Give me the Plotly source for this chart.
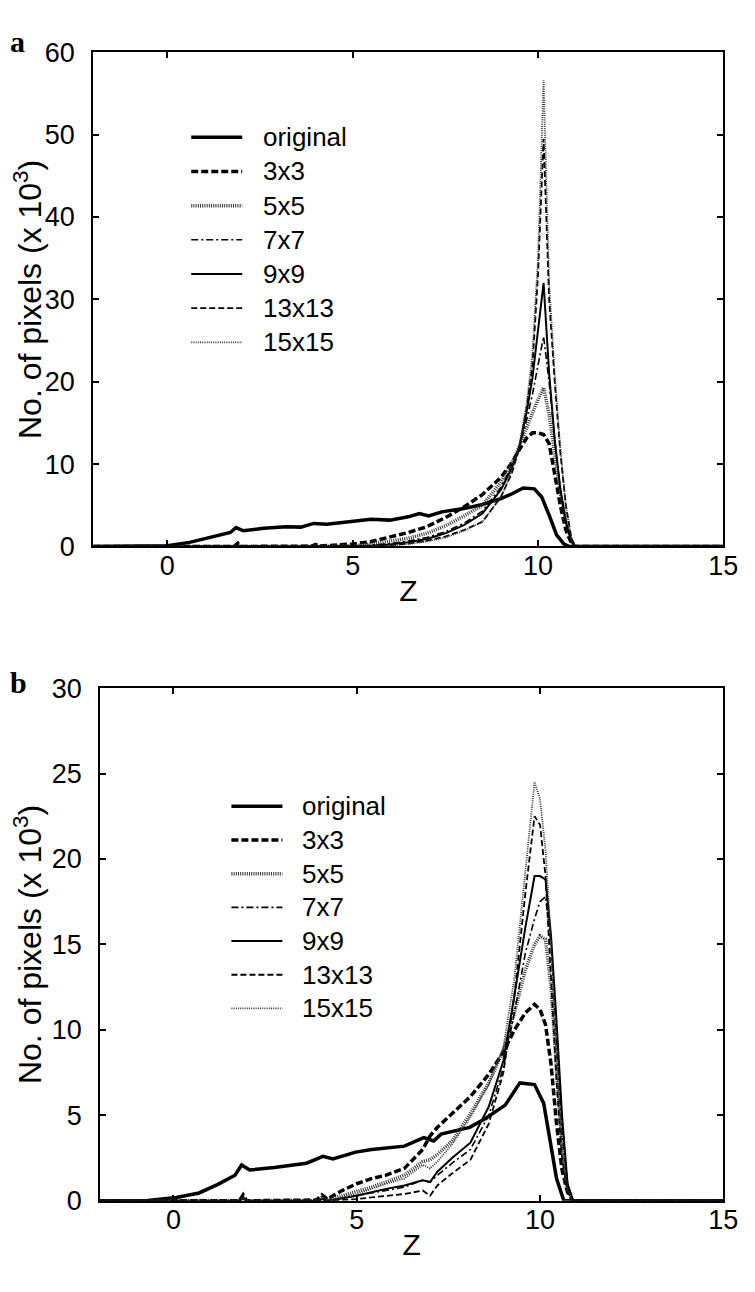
import plotly.graph_objects as go

# ---------------- data (values in thousands of pixels) ----------------
# Panel a
orig_a_z = [-2, -1, -0.5, 0, 0.6, 1.2, 1.7, 1.85, 2.05, 2.6, 3.2, 3.6, 3.95, 4.3, 5.0, 5.5, 6.0,
            6.5, 6.8, 7.05, 7.4, 8.0, 8.5, 9.0, 9.3, 9.6, 9.9, 10.1, 10.3, 10.5, 10.7, 10.85, 11.5, 15]
orig_a_n = [0, 0, 0.02, 0.1, 0.5, 1.1, 1.7, 2.3, 1.9, 2.2, 2.4, 2.35, 2.8, 2.7, 3.0, 3.3, 3.2,
            3.6, 4.0, 3.7, 4.2, 4.6, 5.1, 5.8, 6.4, 7.1, 7.0, 6.0, 3.8, 1.4, 0.3, 0, 0, 0]

filt_a_z = [-2, 1.8, 1.9, 2.0, 3.9, 4.0, 4.1, 5.0, 5.5, 6.0, 6.5, 7.0, 7.5, 8.0, 8.5, 9.0, 9.3,
            9.5, 9.7, 9.85, 10.0, 10.15, 10.3, 10.45, 10.6, 10.75, 10.9, 11.0, 15]
f3_a = [0, 0, 0.4, 0, 0.05, 0.25, 0.05, 0.3, 0.6, 1.1, 1.7, 2.4, 3.5, 4.8, 6.3, 8.4, 10.2,
        11.8, 13.2, 13.8, 13.8, 13.6, 12.5, 8.8, 5.0, 2.0, 0.4, 0, 0]
f5_a = [0, 0, 0.2, 0, 0, 0.1, 0, 0.1, 0.3, 0.6, 1.0, 1.6, 2.5, 3.7, 5.0, 7.8, 10.2,
        12.2, 14.6, 16.2, 17.8, 19.3, 16.0, 11.0, 6.5, 3.0, 0.6, 0, 0]
f7_a = [0, 0, 0.1, 0, 0, 0.05, 0, 0.05, 0.15, 0.35, 0.65, 1.1, 1.8, 2.8, 4.3, 7.2, 9.8,
        12.0, 15.5, 18.5, 22.0, 25.5, 20.0, 13.0, 7.0, 3.0, 0.6, 0, 0]
f9_a = [0, 0, 0.1, 0, 0, 0.05, 0, 0.03, 0.1, 0.25, 0.5, 0.9, 1.6, 2.6, 4.0, 6.9, 9.6,
        12.2, 16.5, 20.5, 26.0, 32.0, 21.0, 13.0, 7.0, 3.0, 0.6, 0, 0]
f13_a = [0, 0, 0.05, 0, 0, 0, 0, 0, 0.05, 0.15, 0.35, 0.7, 1.2, 2.0, 3.0, 6.0, 9.0,
         12.0, 17.0, 22.0, 33.0, 49.5, 30.0, 20.0, 11.5, 5.0, 1.0, 0, 0]
f15_a = [0, 0, 0.05, 0, 0, 0, 0, 0, 0.05, 0.1, 0.3, 0.6, 1.1, 1.9, 3.0, 6.0, 9.2,
         12.4, 17.5, 23.5, 35.0, 56.6, 32.0, 21.0, 12.0, 5.0, 1.0, 0, 0]

# Panel b
orig_b_z = [-2, -1, -0.7, 0.08, 0.7, 1.2, 1.68, 1.86, 2.08, 2.75, 3.63, 4.08, 4.35, 4.97, 5.41,
            6.3, 6.83, 7.1, 7.3, 8.08, 8.5, 9.05, 9.45, 9.85, 10.1, 10.3, 10.45, 10.65, 11, 15]
orig_b_n = [0, 0, 0.02, 0.2, 0.46, 0.95, 1.5, 2.1, 1.8, 1.95, 2.2, 2.6, 2.45, 2.85, 3.0,
            3.2, 3.7, 3.5, 3.9, 4.3, 4.8, 5.6, 6.9, 6.8, 5.7, 3.2, 1.3, 0, 0, 0]

filt_b_z = [-2, 1.8, 1.9, 2.0, 3.9, 4.05, 4.2, 4.6, 5.0, 5.4, 5.8, 6.3, 6.8, 7.0, 7.2, 7.6,
            8.1, 8.6, 9.0, 9.3, 9.6, 9.85, 10.0, 10.15, 10.3, 10.45, 10.6, 10.75, 10.9, 15]
f3_b = [0, 0, 0.35, 0, 0.05, 0.35, 0.1, 0.6, 1.0, 1.3, 1.5, 1.9, 3.0, 3.8, 4.3, 5.1,
        6.1, 7.4, 8.7, 10.0, 11.0, 11.5, 11.2, 10.3, 8.0, 4.5, 1.8, 0.5, 0, 0]
f5_b = [0, 0, 0.2, 0, 0, 0.2, 0.05, 0.3, 0.5, 0.8, 1.1, 1.5, 2.3, 2.4, 2.7, 3.5,
        5.1, 6.9, 8.8, 11.0, 13.5, 15.0, 15.5, 15.3, 12.5, 7.5, 3.0, 0.8, 0, 0]
f7_b = [0, 0, 0.15, 0, 0, 0.1, 0, 0.15, 0.3, 0.45, 0.6, 0.8, 1.2, 1.1, 1.5, 2.2,
        3.0, 5.0, 7.8, 11.0, 14.5, 16.5, 17.5, 17.8, 15.0, 9.5, 4.0, 1.0, 0, 0]
f9_b = [0, 0, 0.15, 0, 0, 0.1, 0, 0.15, 0.3, 0.5, 0.7, 0.9, 1.2, 1.1, 1.7, 2.5,
        3.4, 5.5, 8.2, 12.0, 16.0, 19.0, 19.0, 18.8, 15.5, 10.5, 5.0, 1.0, 0, 0]
f13_b = [0, 0, 0.1, 0, 0, 0.05, 0, 0.05, 0.1, 0.2, 0.3, 0.4, 0.6, 0.3, 0.9, 1.6,
         2.4, 4.5, 7.5, 12.0, 18.0, 22.5, 22.0, 19.0, 13.0, 7.0, 2.5, 0.5, 0, 0]
f15_b = [0, 0, 0.1, 0, 0, 0.1, 0, 0.2, 0.4, 0.7, 1.0, 1.3, 2.1, 1.9, 2.3, 3.3,
         4.9, 6.8, 9.0, 13.0, 19.5, 24.5, 23.5, 20.5, 15.0, 8.5, 3.0, 0.6, 0, 0]

series_names = ["original", "3x3", "5x5", "7x7", "9x9", "13x13", "15x15"]
x_ticks = [0, 5, 10, 15]
panel_labels = ["a", "b"]

# ---------------- styling ----------------
FONT = "Liberation Sans, Arial, sans-serif"
styles = {
    "original": dict(color="black", width=3.5, dash="solid"),
    "3x3": dict(color="black", width=3.5, dash="7px,3px"),
    "5x5": dict(color="#333", width=3.5, dash="1px,1.2px"),
    "7x7": dict(color="black", width=1.6, dash="7px,3px,2px,3px"),
    "9x9": dict(color="black", width=2, dash="solid"),
    "13x13": dict(color="black", width=1.8, dash="6px,3px"),
    "15x15": dict(color="#333", width=1.8, dash="1px,1.2px"),
}

panel_a = [(orig_a_z, orig_a_n), (filt_a_z, f3_a), (filt_a_z, f5_a), (filt_a_z, f7_a),
           (filt_a_z, f9_a), (filt_a_z, f13_a), (filt_a_z, f15_a)]
panel_b = [(orig_b_z, orig_b_n), (filt_b_z, f3_b), (filt_b_z, f5_b), (filt_b_z, f7_b),
           (filt_b_z, f9_b), (filt_b_z, f13_b), (filt_b_z, f15_b)]

fig = go.Figure()
for (xs, ys), name in zip(panel_a, series_names):
    fig.add_trace(go.Scatter(x=xs, y=ys, mode="lines", name=name, line=styles[name],
                             xaxis="x", yaxis="y", showlegend=False))
for (xs, ys), name in zip(panel_b, series_names):
    fig.add_trace(go.Scatter(x=xs, y=ys, mode="lines", name=name, line=styles[name],
                             xaxis="x2", yaxis="y2", showlegend=False))

# The page body adds an 8px margin; window pixel positions are converted to figure space.
OFF = 8
W, H = 755 - OFF, 1292 - OFF


def px_x(p):
    return (p - OFF) / W


def px_y(p):
    return 1 - (p - OFF) / H


axis_common = dict(showline=True, linewidth=2, linecolor="black", mirror="ticks",
                   ticks="inside", ticklen=6, tickwidth=1.5, tickcolor="black",
                   showgrid=False, zeroline=False,
                   tickfont=dict(family=FONT, size=27, color="black"))

ytitle = dict(text="No. of pixels (x 10<sup>3</sup>)", font=dict(family=FONT, size=32, color="black"),
              standoff=12)
xtitle = dict(text="Z", font=dict(family=FONT, size=30, color="black"), standoff=0)

fig.update_layout(
    width=W, height=H,
    margin=dict(l=0, r=0, t=0, b=0),
    paper_bgcolor="white", plot_bgcolor="white",
    showlegend=False,
    xaxis=dict(domain=[px_x(95), px_x(738)], range=[-2, 15], tickvals=x_ticks, anchor="y",
               title=xtitle, ticklabelstandoff=-6, **axis_common),
    yaxis=dict(domain=[px_y(544), px_y(38)], range=[0, 60], dtick=10, anchor="x",
               title=ytitle, ticklabelstandoff=11, **axis_common),
    xaxis2=dict(domain=[px_x(102), px_x(738)], range=[-2, 15], tickvals=x_ticks, anchor="y2",
                title=xtitle, ticklabelstandoff=-6, **axis_common),
    yaxis2=dict(domain=[px_y(1214), px_y(689)], range=[0, 30], dtick=5, anchor="x2",
                title=ytitle, ticklabelstandoff=11, **axis_common),
)

# legend boxes drawn as line samples + labels (one per panel)
legend_specs = [
    dict(x0=195, x1=247, xt=266, y0=125, dy=35),
    dict(x0=236, x1=288, xt=306, y0=810, dy=34.5),
]
for spec in legend_specs:
    for i, name in enumerate(series_names):
        yy = px_y(spec["y0"] + i * spec["dy"])
        st = styles[name]
        fig.add_shape(type="line", xref="paper", yref="paper",
                      x0=px_x(spec["x0"]), x1=px_x(spec["x1"]), y0=yy, y1=yy,
                      line=dict(color=st["color"], width=st["width"], dash=st["dash"]))
        fig.add_annotation(text=name, xref="paper", yref="paper", x=px_x(spec["xt"]), y=yy,
                           xanchor="left", yanchor="middle", showarrow=False,
                           font=dict(family=FONT, size=26, color="black"))

for lbl, ypx in zip(panel_labels, [OFF, 664]):
    fig.add_annotation(text=f"<b>{lbl}</b>", xref="paper", yref="paper", x=px_x(OFF), y=px_y(ypx),
                       xanchor="left", yanchor="top", showarrow=False,
                       font=dict(family="Liberation Serif, Times New Roman, serif", size=30,
                                 color="black"))

fig.write_html("out.html")
